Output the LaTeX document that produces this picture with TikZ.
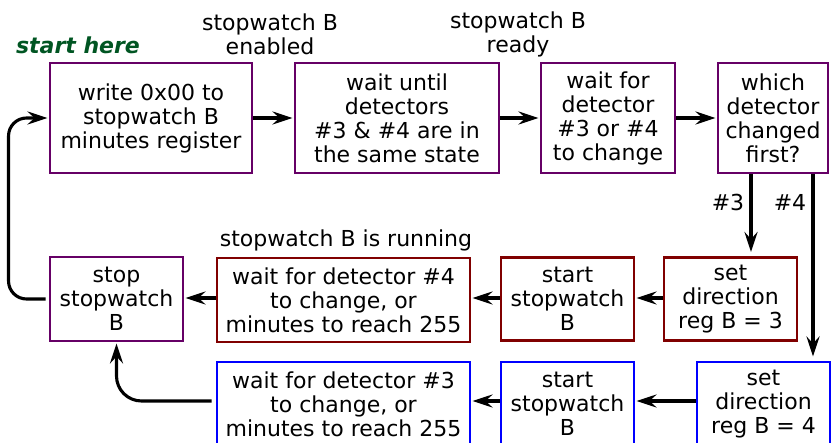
\documentclass[tikz,border=0pt]{standalone}
\usepackage{fontspec}
\setmainfont{DejaVu Sans}
\usetikzlibrary{arrows.meta}
\definecolor{procviolet}{RGB}{102,0,102}
\definecolor{procred}{RGB}{128,0,0}
\definecolor{procblue}{RGB}{0,0,255}
\definecolor{startgreen}{RGB}{0,85,34}
\begin{document}
\begin{tikzpicture}[x=1pt,y=-1pt,
  box/.style={draw, line width=2.95pt, align=center, inner sep=0pt,
    font=\fontsize{22}{24}\selectfont},
  violetbox/.style={box, draw=procviolet},
  redbox/.style={box, draw=procred},
  bluebox/.style={box, draw=procblue},
  flow/.style={line width=3.1pt, shorten >=1pt,
    -{Stealth[length=20pt,width=13pt,inset=7pt]}},
  note/.style={align=center, font=\fontsize{22}{24}\selectfont}]
\clip (0,0) rectangle (837,443);
\useasboundingbox (0,0) rectangle (837,443);

% top row
\node[violetbox, minimum width=202pt, minimum height=110pt] (w) at (151,118)
  {write 0x00 to\\stopwatch B\\minutes register};
\node[violetbox, minimum width=204pt, minimum height=110pt] (u) at (397,118)
  {wait until\\detectors\\\#3 \& \#4 are in\\the same state};
\node[violetbox, minimum width=134pt, minimum height=110pt] (f) at (608,118)
  {wait for\\detector\\\#3 or \#4\\to change};
\node[violetbox, minimum width=110pt, minimum height=110pt] (q) at (773,118)
  {which\\detector\\changed\\first?};

% middle row (#3 first)
\node[violetbox, minimum width=133pt, minimum height=84pt] (s) at (116.5,299)
  {stop\\stopwatch\\B};
\node[redbox, minimum width=253pt, minimum height=84pt] (r4) at (343.5,300)
  {wait for detector \#4\\to change, or\\minutes to reach 255};
\node[redbox, minimum width=133pt, minimum height=83pt] (st3) at (567.5,299)
  {start\\stopwatch\\B};
\node[redbox, minimum width=133pt, minimum height=83pt] (d3) at (730.5,299)
  {set\\direction\\reg B = 3};

% bottom row (#4 first)
\node[bluebox, minimum width=253pt, minimum height=84pt] (b3) at (343.5,404)
  {wait for detector \#3\\to change, or\\minutes to reach 255};
\node[bluebox, minimum width=133pt, minimum height=84pt] (st4) at (567.5,404)
  {start\\stopwatch\\B};
\node[bluebox, minimum width=133pt, minimum height=84pt] (d4) at (763.5,404)
  {set\\direction\\reg B = 4};

% labels
\node[note] (lenabled) at (270,34) {stopwatch B\\enabled};
\node[note] (lready) at (518,34) {stopwatch B\\ready};
\node[note, text=startgreen, font=\fontsize{22}{24}\selectfont\bfseries\itshape]
  (lstart) at (78,45) {start here};
\node[note] (lrun) at (346,240) {stopwatch B is running};
\node[note] (l3) at (728,202) {\#3};
\node[note] (l4) at (790,202) {\#4};

% branch points under the decision box
\coordinate (c3) at (751,0);
\coordinate (c4) at (813,0);
% level of the arrows in the middle and bottom rows
\coordinate (rowmid) at (0,298);
\coordinate (rowlow) at (0,401);

% connectors
\draw[flow] (w.east) -- (u.west);
\draw[flow] (u.east) -- (f.west);
\draw[flow] (f.east) -- (q.west);
\draw[flow, shorten >=4pt] (q.south -| c3) -- (d3.north -| c3);
\draw[flow, shorten >=4pt] (q.south -| c4) -- (d4.north -| c4);
\draw[flow] (d3.west |- rowmid) -- (st3.east |- rowmid);
\draw[flow] (st3.west |- rowmid) -- (r4.east |- rowmid);
\draw[flow] (r4.west |- rowmid) -- (s.east |- rowmid);
\draw[flow] (d4.west |- rowlow) -- (st4.east |- rowlow);
\draw[flow] (st4.west |- rowlow) -- (b3.east |- rowlow);
\draw[flow, rounded corners=25pt] ([xshift=-4pt]b3.west |- rowlow) -| (s.south);
\draw[flow, rounded corners=18pt] ([xshift=-3pt]s.west) -- ++(-37,0) |- (w.west);
\end{tikzpicture}
\end{document}
